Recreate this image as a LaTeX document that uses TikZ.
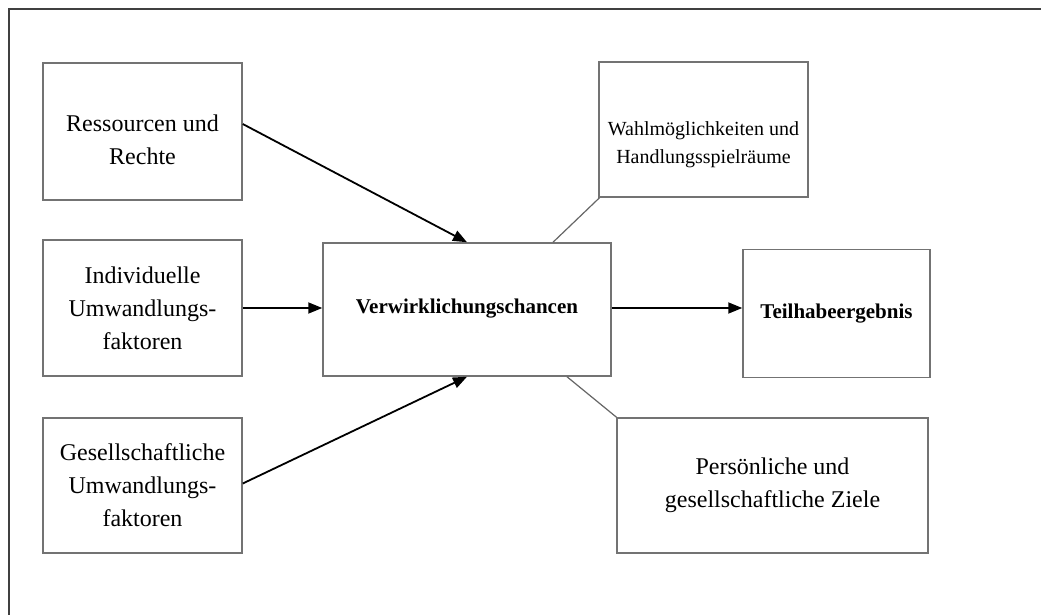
\documentclass[tikz,border=0pt]{standalone}
\usepackage{fontspec}
\setmainfont{Liberation Serif}
\usetikzlibrary{arrows.meta,calc}
\begin{document}
\begin{tikzpicture}[x=0.5pt,y=-0.5pt,
  box/.style={draw=black!55,line width=0.75pt,fill=white,inner sep=0pt},
  txt/.style={align=center,inner sep=0pt,font=\fontsize{12}{16.5}\selectfont},
  arr/.style={draw=black,line width=0.9pt,-{Triangle[length=7pt,width=5.5pt]}},
  link/.style={draw=black!60,line width=0.6pt}]
\useasboundingbox (0,0) rectangle (1041,615);
\draw[black!75,line width=1pt] (9,615) -- (9,9) -- (1041,9);
\node[box,minimum width=99.5pt,minimum height=68.5pt] (res) at (142.5,131.5) {};
\node[txt] (rest) at ([yshift=-4pt]res.center) {Ressourcen und\\Rechte};
\node[box,minimum width=99.5pt,minimum height=68pt] (ind) at (142.5,308) {};
\node[txt] (indt) at (ind.center) {Individuelle\\Umwandlungs-\\faktoren};
\node[box,minimum width=99.5pt,minimum height=67.5pt] (ges) at (142.5,485.5) {};
\node[txt] (gest) at (ges.center) {Gesellschaftliche\\Umwandlungs-\\faktoren};
\node[box,minimum width=144pt,minimum height=66.5pt] (ver) at (467,309.5) {};
\node[txt,font=\fontsize{10.5}{14}\selectfont\bfseries] (vert) at ([yshift=0.5pt]ver.center) {Verwirklichungschancen};
\node[box,minimum width=93.5pt,minimum height=64pt] (teil) at (836.5,313.5) {};
\node[txt,font=\fontsize{10.5}{14}\selectfont\bfseries] (teilt) at (teil.center) {Teilhabeergebnis};
\node[box,minimum width=104.5pt,minimum height=67.5pt] (wahl) at (703.5,129.5) {};
\node[txt,font=\fontsize{10}{14}\selectfont] (wahlt) at ([yshift=-7.5pt]wahl.center) {Wahlmöglichkeiten und\\Handlungsspielräume};
\node[box,minimum width=155.5pt,minimum height=67.5pt] (pers) at (772.5,485.5) {};
\node[txt] (perst) at (pers.center) {Persönliche und\\gesellschaftliche Ziele};
\draw[arr] ([yshift=3.75pt]res.east) -- (ver.north);
\draw[arr] (ind.east) -- (ind.east -| ver.west);
\draw[arr] ([yshift=1pt]ges.east) -- (ver.south);
\draw[arr] ([yshift=0.75pt]ver.east) -- ([yshift=0.75pt]ver.east -| teil.west);
\draw[link] ([xshift=43pt]ver.north) -- ([xshift=-52pt]wahl.south);
\draw[link] ([xshift=50pt]ver.south) -- ([xshift=-78pt]pers.north);
\end{tikzpicture}
\end{document}
